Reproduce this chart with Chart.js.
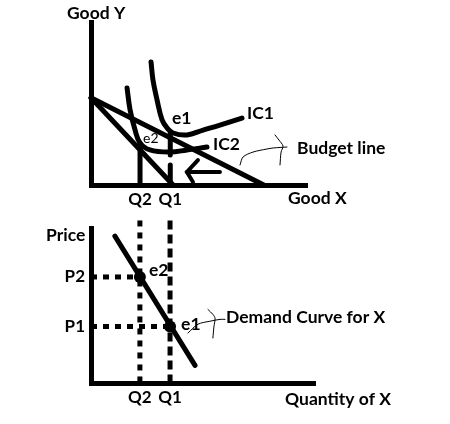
<!DOCTYPE html>
<html>
<head>
<meta charset="utf-8">
<script src="https://cdn.jsdelivr.net/npm/chart.js@4"></script>
<style>
  html, body { margin: 0; padding: 0; background: #fff; }
  #wrap { position: relative; width: 450px; height: 424px; }
  canvas { position: absolute; left: 0; }
</style>
</head>
<body>
<div id="wrap">
  <canvas id="top" width="450" height="212" style="top:0"></canvas>
  <canvas id="bottom" width="450" height="212" style="top:212px"></canvas>
</div>
<script>
// quantities and prices shared by both panels
const Q2 = 2.27, Q1 = 3.67;
const P2 = 6.85, P1 = 3.65;
const qTickValues = [Q2, Q1];
const qTickLabels = ['Q2', 'Q1'];
const pTickValues = [P2, P1];
const pTickLabels = ['P2', 'P1'];

// top panel: budget lines and indifference curves
const budget1X = [0, 8];
const budget1Y = [5.35, 0];
const budget2X = [0, 3.8];
const budget2Y = [5.35, 0];
const ic1X = [2.78, 2.87, 3.06, 3.29, 3.52, 3.80, 4.44, 5.19, 5.97, 6.99];
const ic1Y = [7.55, 6.44, 5.21, 3.99, 3.50, 3.19, 3.07, 3.37, 3.68, 4.11];
const ic2X = [1.67, 1.81, 2.04, 2.27, 2.73, 3.66, 4.44, 5.37];
const ic2Y = [5.95, 4.60, 3.37, 2.58, 2.15, 2.02, 2.15, 2.33];
const q2DropY = [2.58, 0];
const q1DropUpperY = [3.2, 1.84];
const q1DropLowerY = [1.23, 0];
const arrowShaftX = [5.97, 4.44];
const arrowShaftY = [0.80, 0.80];
const arrowHeadX = [4.95, 4.44, 4.72];
const arrowHeadY = [1.53, 0.80, 0.18];
const budgetNoteX = [6.90, 7.04, 7.50, 8.15, 8.43, 9.07];
const budgetNoteY = [1.23, 1.72, 2.02, 2.21, 2.27, 2.33];
const budgetBraceX = [8.52, 8.70, 8.89, 8.80, 8.75];
const budgetBraceY = [3.07, 2.76, 2.39, 2.02, 1.23];

// bottom panel: demand curve
const demandX = [1.11, 4.83];
const demandY = [9.49, 1.14];
const guideTop = 10.5;
const demandNoteX = [4.50, 4.97, 5.52, 5.99, 6.22];
const demandNoteY = [3.23, 3.80, 3.99, 4.11, 4.11];
const demandBraceX = [5.43, 5.66, 5.76, 5.71, 5.66];
const demandBraceY = [4.75, 4.43, 4.18, 3.67, 2.91];

const FONT = 'Lato, "Open Sans", sans-serif';
const pts = (xs, ys) => xs.map((x, i) => ({ x, y: ys[i] }));

function line(xs, ys, opts) {
  return Object.assign({
    data: pts(xs, ys),
    showLine: true,
    borderColor: '#000',
    borderWidth: 5,
    pointRadius: 0,
    tension: 0,
    borderCapStyle: 'round',
    borderJoinStyle: 'round',
    clip: false
  }, opts || {});
}

function labelPlugin(items) {
  return {
    id: 'labels',
    afterDatasetsDraw(chart) {
      const { ctx, scales } = chart;
      ctx.save();
      ctx.fillStyle = '#000';
      ctx.textBaseline = 'middle';
      ctx.textAlign = 'left';
      items.forEach(t => {
        ctx.font = t.font;
        ctx.fillText(t.text, scales.x.getPixelForValue(t.x), scales.y.getPixelForValue(t.y));
      });
      ctx.restore();
    }
  };
}

function axis(opts) {
  return {
    type: 'linear',
    min: opts.min,
    max: opts.max,
    grid: { display: false, drawTicks: false },
    border: { display: true, color: '#000', width: 5 },
    afterBuildTicks: s => { s.ticks = opts.ticks.map(v => ({ value: v })); },
    afterFit: opts.fit,
    ticks: {
      display: opts.labels.length > 0,
      color: '#000',
      padding: opts.pad,
      autoSkip: false,
      maxRotation: 0,
      font: { family: FONT, size: 17, weight: 'bold' },
      callback: (v, i) => opts.labels[i]
    }
  };
}

const bold = '700 17.5px ' + FONT;

new Chart(document.getElementById('top'), {
  type: 'scatter',
  data: {
    datasets: [
      line(budget1X, budget1Y),
      line(budget2X, budget2Y),
      line(ic1X, ic1Y, { tension: 0.4 }),
      line(ic2X, ic2Y, { tension: 0.4 }),
      line([Q2, Q2], q2DropY, { borderCapStyle: 'butt' }),
      line([Q1, Q1], q1DropUpperY, { borderCapStyle: 'butt' }),
      line([Q1, Q1], q1DropLowerY, { borderCapStyle: 'butt' }),
      line(arrowShaftX, arrowShaftY, { borderWidth: 4 }),
      line(arrowHeadX, arrowHeadY, { borderWidth: 4, borderJoinStyle: 'miter' }),
      line(budgetNoteX, budgetNoteY, { borderWidth: 1, tension: 0.3 }),
      line(budgetBraceX, budgetBraceY, { borderWidth: 1, tension: 0.3 })
    ]
  },
  options: {
    responsive: false,
    animation: false,
    layout: { padding: { top: 22, right: 143, bottom: 0, left: 0 } },
    plugins: { legend: { display: false }, tooltip: { enabled: false } },
    scales: {
      x: axis({ min: 0, max: 10, ticks: qTickValues, labels: qTickLabels, pad: 4, fit: s => { s.height = 27; } }),
      y: axis({ min: 0, max: 10, ticks: [], labels: [], pad: 0, fit: s => { s.width = 91; } })
    }
  },
  plugins: [labelPlugin([
    { text: 'Good Y', x: -1.11, y: 10.55, font: bold },
    { text: 'e1', x: 3.75, y: 4.11, font: bold },
    { text: 'IC1', x: 7.22, y: 4.42, font: bold },
    { text: 'e2', x: 2.41, y: 2.88, font: '14px ' + FONT },
    { text: 'IC2', x: 5.65, y: 2.52, font: bold },
    { text: 'Budget line', x: 9.54, y: 2.27, font: bold },
    { text: 'Good X', x: 9.12, y: -0.80, font: bold }
  ])]
});

new Chart(document.getElementById('bottom'), {
  type: 'scatter',
  data: {
    datasets: [
      { data: pts(qTickValues, pTickValues), pointRadius: 6, pointBackgroundColor: '#000', pointBorderWidth: 0, clip: false },
      line(demandX, demandY),
      line([0, Q2], [P2, P2], { borderCapStyle: 'butt', borderDash: [6, 6] }),
      line([0, Q1], [P1, P1], { borderCapStyle: 'butt', borderDash: [6, 6] }),
      line([Q2, Q2], [guideTop, 0], { borderCapStyle: 'butt', borderDash: [6, 6] }),
      line([Q1, Q1], [guideTop, 0], { borderCapStyle: 'butt', borderDash: [9, 5] }),
      line(demandNoteX, demandNoteY, { borderWidth: 1, tension: 0.3 }),
      line(demandBraceX, demandBraceY, { borderWidth: 1, tension: 0.3 })
    ]
  },
  options: {
    responsive: false,
    animation: false,
    layout: { padding: { top: 13, right: 135, bottom: 0, left: 0 } },
    plugins: { legend: { display: false }, tooltip: { enabled: false } },
    scales: {
      x: axis({ min: 0, max: 10.4, ticks: qTickValues, labels: qTickLabels, pad: 4, fit: s => { s.height = 41; } }),
      y: axis({ min: 0, max: 10, ticks: pTickValues, labels: pTickLabels, pad: 6, fit: s => { s.width = 91; } })
    }
  },
  plugins: [labelPlugin([
    { text: 'Price', x: -2.09, y: 9.56, font: bold },
    { text: 'e2', x: 2.69, y: 7.28, font: bold },
    { text: 'e1', x: 4.18, y: 3.80, font: bold },
    { text: 'Demand Curve for X', x: 6.27, y: 4.24, font: bold },
    { text: 'Quantity of X', x: 9.01, y: -1.08, font: bold }
  ])]
});
</script>
</body>
</html>
